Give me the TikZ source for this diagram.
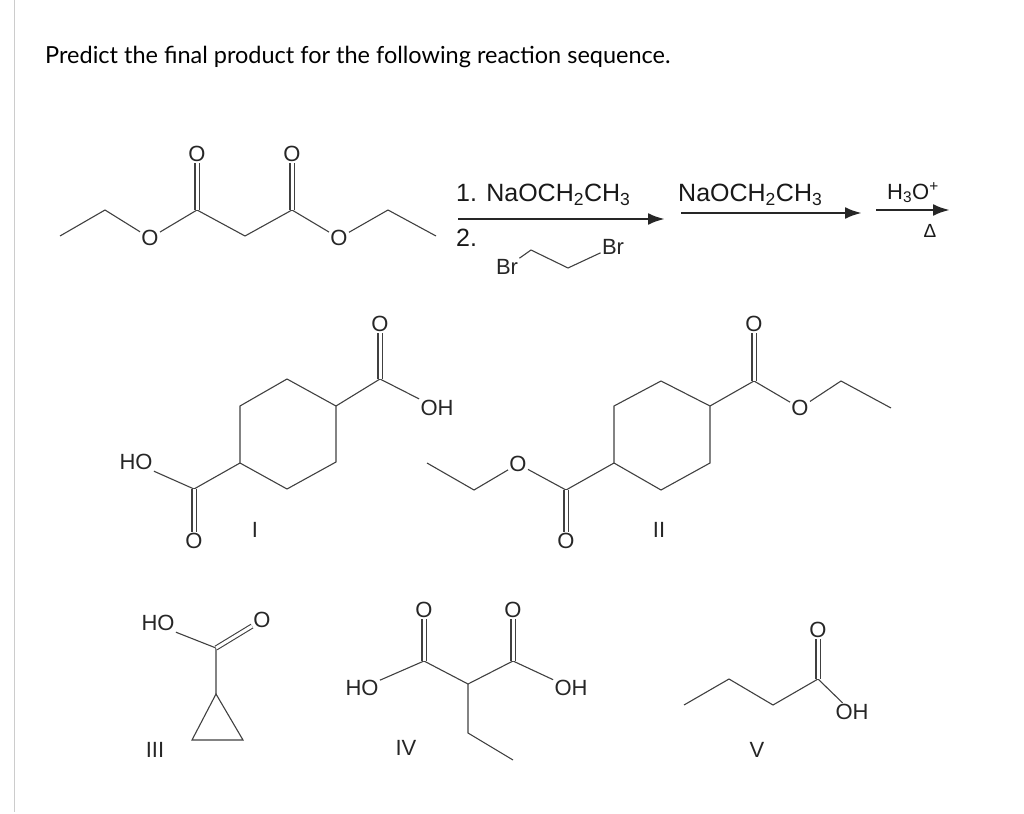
\documentclass[tikz,border=0pt]{standalone}
\usepackage{fontspec}
\setmainfont{Liberation Sans}
\newfontfamily\headfont{Lato}
\usetikzlibrary{arrows.meta}
\begin{document}
\begin{tikzpicture}[x=1pt,y=-1pt,
  bond/.style={draw=black!75,line width=1.1pt},
  dbond/.style={draw=black!75,line width=1.1pt,double,double distance=3pt},
  atom/.style={inner sep=1.2pt,font=\fontsize{22}{22}\selectfont,text=black!85},
  lab/.style={font=\fontsize{22}{22}\selectfont,text=black!85},
  rlab/.style={font=\fontsize{25}{25}\selectfont,text=black!90,inner sep=1pt},
  rarrow/.style={draw=black!85,line width=2.8pt,-{Latex[length=17pt,width=12pt]}}]
\useasboundingbox (0,0) rectangle (1024,813);
\draw[black!20,line width=1pt] (14,0) -- (14,812);
\node[anchor=west,font=\headfont\fontsize{23.5}{23.5}\selectfont,inner sep=0pt] (title) at (45,57) {Predict the final product for the following reaction sequence.};
% malonate
\coordinate (m1) at (60,236); \coordinate (m2) at (105,210);
\node[atom] (mo1) at (150,238) {O}; \coordinate (m3) at (197,210);
\node[atom] (mo2) at (197,154) {O}; \coordinate (m4) at (245,236);
\coordinate (m5) at (292,210); \node[atom] (mo3) at (292,154) {O};
\node[atom] (mo4) at (339,238) {O}; \coordinate (m6) at (388,210);
\coordinate (m7) at (436,236);
\draw[bond] (m1)--(m2)--(mo1)--(m3)--(m4)--(m5)--(mo4)--(m6)--(m7);
\draw[dbond] (m3)--(mo2); \draw[dbond] (m5)--(mo3);
% reagents
\coordinate (a1s) at (458,219); \coordinate (a1e) at (665,219);
\draw[rarrow] (a1s)--(a1e);
\node[rlab,anchor=south west] (r1) at (455,207) {1. NaOCH\textsubscript{2}CH\textsubscript{3}};
\node[rlab,anchor=west] (r2) at (455,238) {2.};
\node[atom] (br1) at (507,267) {Br}; \node[atom] (br2) at (613,247) {Br};
\coordinate (b1) at (531,250); \coordinate (b2) at (568,268);
\draw[bond] (br1)--(b1)--(b2)--(br2);
\coordinate (a2s) at (681,213); \coordinate (a2e) at (862,213);
\draw[rarrow] (a2s)--(a2e);
\node[rlab,anchor=south west] (r3) at (677,207) {NaOCH\textsubscript{2}CH\textsubscript{3}};
\coordinate (a3s) at (876,210); \coordinate (a3e) at (950,210);
\draw[rarrow] (a3s)--(a3e);
\node[rlab,anchor=south,font=\fontsize{22}{22}\selectfont] (r4) at (913,204) {H\textsubscript{3}O\textsuperscript{+}};
\node[rlab,anchor=north,font=\fontsize{19}{19}\selectfont] (r5) at (930,223) {Δ};
% I
\coordinate (i1) at (287,379); \coordinate (i2) at (336,406); \coordinate (i3) at (336,462);
\coordinate (i4) at (287,489); \coordinate (i5) at (240,463); \coordinate (i6) at (240,406);
\draw[bond] (i1)--(i2)--(i3)--(i4)--(i5)--(i6)--cycle;
\coordinate (ic1) at (380,379); \node[atom] (io1) at (380,324) {O};
\node[atom] (ioh1) at (437,408) {OH};
\draw[bond] (i2)--(ic1)--(ioh1); \draw[dbond] (ic1)--(io1);
\coordinate (ic2) at (194,489); \node[atom] (io2) at (194,541) {O};
\node[atom] (ioh2) at (136,462) {HO};
\draw[bond] (i5)--(ic2)--(ioh2.south east); \draw[dbond] (ic2)--(io2);
\node[lab] (lI) at (255,530) {I};
% II
\coordinate (j1) at (661,381); \coordinate (j2) at (710,406); \coordinate (j3) at (710,463);
\coordinate (j4) at (661,490); \coordinate (j5) at (614,463); \coordinate (j6) at (614,406);
\draw[bond] (j1)--(j2)--(j3)--(j4)--(j5)--(j6)--cycle;
\coordinate (jc1) at (754,381); \node[atom] (jo1) at (754,324) {O};
\node[atom] (jo2) at (800,408) {O}; \coordinate (je1) at (841,381); \coordinate (je2) at (891,408);
\draw[bond] (j2)--(jc1)--(jo2)--(je1)--(je2); \draw[dbond] (jc1)--(jo1);
\coordinate (jc2) at (566,490); \node[atom] (jo3) at (566,541) {O};
\node[atom] (jo4) at (518,464) {O}; \coordinate (je3) at (474,490); \coordinate (je4) at (427,463);
\draw[bond] (j5)--(jc2)--(jo4)--(je3)--(je4); \draw[dbond] (jc2)--(jo3);
\node[lab] (lII) at (659,530) {II};
% III
\node[atom] (kho) at (158,623) {HO}; \node[atom] (ko) at (262,620) {O};
\coordinate (kc) at (216,648); \coordinate (kr) at (216,694);
\coordinate (kt1) at (192,740); \coordinate (kt2) at (243,740);
\draw[bond] (kho.south east)--(kc)--(kr);
\draw[bond] (kr)--(kt1)--(kt2)--cycle;
\draw[dbond] (kc)--(ko);
\node[lab] (lIII) at (155,750) {III};
% IV
\node[atom] (lo1) at (424,610) {O}; \node[atom] (lo2) at (513,610) {O};
\coordinate (lc1) at (424,661); \coordinate (lc2) at (513,661); \coordinate (lch) at (468,684);
\node[atom] (lho) at (362,688) {HO}; \node[atom] (loh) at (571,688) {OH};
\coordinate (le1) at (468,733); \coordinate (le2) at (513,760);
\draw[bond] (lho)--(lc1)--(lch)--(lc2)--(loh); \draw[bond] (lch)--(le1)--(le2);
\draw[dbond] (lc1)--(lo1); \draw[dbond] (lc2)--(lo2);
\node[lab] (lIV) at (406,748) {IV};
% V
\coordinate (v1) at (684,705); \coordinate (v2) at (729,679); \coordinate (v3) at (773,705);
\coordinate (vc) at (818,679); \node[atom] (vo) at (818,630) {O}; \node[atom] (voh) at (852,712) {OH};
\draw[bond] (v1)--(v2)--(v3)--(vc)--(voh); \draw[dbond] (vc)--(vo);
\node[lab] (lV) at (757,750) {V};
\end{tikzpicture}
\end{document}
